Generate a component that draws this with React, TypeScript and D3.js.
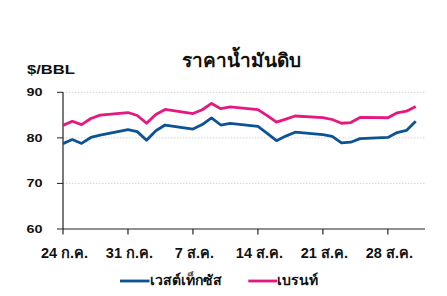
import React from "react";
import * as d3 from "d3";

const dates = [
  "2023-07-24", "2023-07-25", "2023-07-26", "2023-07-27", "2023-07-28",
  "2023-07-31", "2023-08-01", "2023-08-02", "2023-08-03", "2023-08-04",
  "2023-08-07", "2023-08-08", "2023-08-09", "2023-08-10", "2023-08-11",
  "2023-08-14", "2023-08-15", "2023-08-16", "2023-08-17", "2023-08-18",
  "2023-08-21", "2023-08-22", "2023-08-23", "2023-08-24", "2023-08-25",
  "2023-08-28", "2023-08-29", "2023-08-30", "2023-08-31",
];
const wti = [
  78.74, 79.63, 78.78, 80.09, 80.58,
  81.8, 81.37, 79.49, 81.55, 82.82,
  81.94, 82.92, 84.4, 82.82, 83.19,
  82.51, 80.99, 79.38, 80.39, 81.25,
  80.72, 80.35, 78.89, 79.05, 79.83,
  80.1, 81.16, 81.63, 83.63,
];
const brent = [
  82.74, 83.64, 82.92, 84.24, 84.99,
  85.56, 84.91, 83.2, 85.14, 86.24,
  85.34, 86.17, 87.55, 86.4, 86.81,
  86.21, 84.89, 83.45, 84.12, 84.8,
  84.46, 84.03, 83.21, 83.36, 84.48,
  84.42, 85.49, 85.86, 86.86,
];
const yTicks = [60, 70, 80, 90];
const xTickDates = ["2023-07-24", "2023-07-31", "2023-08-07", "2023-08-14", "2023-08-21", "2023-08-28"];
const xTickLabels = ["24 ก.ค.", "31 ก.ค.", "7 ส.ค.", "14 ส.ค.", "21 ส.ค.", "28 ส.ค."];
const seriesNames = ["เวสต์เท็กซัส", "เบรนท์"];
const title = "ราคาน้ำมันดิบ";
const unit = "$/BBL";

const colors = ["#0b5394", "#e6177f"];
const font = "'Liberation Sans', Arial, 'DejaVu Sans', sans-serif";

export default function App() {
  const W = 447, H = 296;
  const parse = d3.utcParse("%Y-%m-%d");
  const x = d3.scaleUtc()
    .domain([parse("2023-07-24")!, parse("2023-09-01")!])
    .range([63, 425]);
  const y = d3.scaleLinear().domain([60, 90]).range([229, 92.3]);
  const ds = dates.map((d) => parse(d)!);
  const line = d3.line<number>()
    .x((_, i) => x(ds[i]))
    .y((v) => y(v));
  const series = [wti, brent];

  return (
    <svg width={W} height={H} style={{ position: "absolute", left: 0, top: 0, background: "#fff" }}>
      <text x={241} y={67} textAnchor="middle" fontFamily={font} fontWeight="bold" fontSize={19} fill="#111">{title}</text>
      <text x={27} y={73.5} fontFamily={font} fontWeight="bold" fontSize={12} fill="#111" textLength={48} lengthAdjust="spacingAndGlyphs">{unit}</text>
      {yTicks.map((t) => (
        <g key={t}>
          {t !== 60 && (
            <line x1={63} x2={425} y1={y(t)} y2={y(t)} stroke="#cccccc" strokeWidth={0.8} strokeDasharray="1.5,1.5" />
          )}
          <line x1={57} x2={63} y1={y(t)} y2={y(t)} stroke="#222" strokeWidth={1} />
          <text x={42.5} y={y(t) + 4} textAnchor="end" fontFamily={font} fontWeight="bold" fontSize={11.5} fill="#111" textLength={16} lengthAdjust="spacingAndGlyphs">{t}</text>
        </g>
      ))}
      <line x1={63} x2={63} y1={y(90)} y2={229} stroke="#222" strokeWidth={1.2} />
      <line x1={63} x2={425} y1={229} y2={229} stroke="#222" strokeWidth={1.2} />
      {xTickDates.map((d, i) => {
        const xp = x(parse(d)!);
        return (
          <g key={d}>
            <line x1={xp} x2={xp} y1={229} y2={234.5} stroke="#222" strokeWidth={1.2} />
            <text x={xp + 1.5} y={258.3} textAnchor="middle" fontFamily={font} fontWeight="bold" fontSize={14.5} fill="#111">{xTickLabels[i]}</text>
          </g>
        );
      })}
      {series.map((s, i) => (
        <path key={i} d={line(s) || ""} fill="none" stroke={colors[i]} strokeWidth={2.8} strokeLinejoin="round" />
      ))}
      <line x1={120} x2={149.5} y1={281} y2={281} stroke={colors[0]} strokeWidth={2.8} />
      <text x={150} y={285} fontFamily={font} fontWeight="bold" fontSize={14} fill="#111">{seriesNames[0]}</text>
      <line x1={248.3} x2={277} y1={281} y2={281} stroke={colors[1]} strokeWidth={2.8} />
      <text x={277} y={285} fontFamily={font} fontWeight="bold" fontSize={14} fill="#111">{seriesNames[1]}</text>
    </svg>
  );
}
